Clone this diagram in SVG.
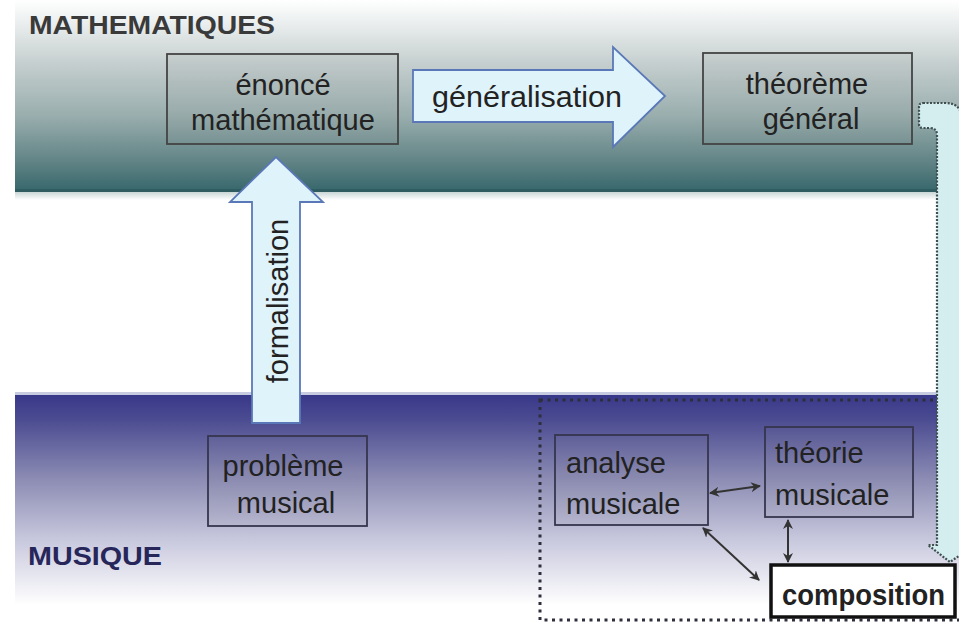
<svg xmlns="http://www.w3.org/2000/svg" width="959" height="628" viewBox="0 0 959 628">
<defs>
<linearGradient id="gTop" x1="0" y1="0" x2="0" y2="1">
<stop offset="0" stop-color="#ffffff"/>
<stop offset="0.1" stop-color="#eef1f1"/>
<stop offset="0.35" stop-color="#c2cccc"/>
<stop offset="0.6" stop-color="#9aaeae"/>
<stop offset="0.85" stop-color="#5f8284"/>
<stop offset="1" stop-color="#35666b"/>
</linearGradient>
<linearGradient id="gBot" x1="0" y1="0" x2="0" y2="1">
<stop offset="0" stop-color="#38388a"/>
<stop offset="0.12" stop-color="#4c4c92"/>
<stop offset="0.4" stop-color="#8c8cb4"/>
<stop offset="0.7" stop-color="#cacadf"/>
<stop offset="1" stop-color="#ffffff"/>
</linearGradient>
<linearGradient id="gShadow" x1="0" y1="0" x2="0" y2="1">
<stop offset="0" stop-color="#c9d6d6"/>
<stop offset="1" stop-color="#ffffff"/>
</linearGradient>
<marker id="ah" viewBox="0 0 10 10" refX="9" refY="5" markerWidth="5" markerHeight="5" orient="auto-start-reverse" markerUnits="strokeWidth">
<path d="M0,0 L10,5 L0,10 L3,5 Z" fill="#333333"/>
</marker>
</defs>
<style>
.box{fill:#808080;fill-opacity:0.08;stroke:#444444;stroke-width:1.8}
.bx{fill:#808080;fill-opacity:0.06;stroke:#36364e;stroke-width:1.8}
.t{font-family:"Liberation Sans",Arial,sans-serif;font-size:29px;fill:#222222}
.c{text-anchor:middle}
.band{font-family:"Liberation Sans",Arial,sans-serif;font-weight:bold;font-size:26px}
.blk{fill:#dff3fb;stroke:#5a78b8;stroke-width:1.8}
.con{stroke:#333333;stroke-width:2;fill:none;marker-start:url(#ah);marker-end:url(#ah)}
</style>
<rect width="959" height="628" fill="#ffffff"/>
<g id="bands">
<rect x="15" y="0" width="944" height="192" fill="url(#gTop)"/>
<rect x="15" y="189" width="944" height="3" fill="#2f5c60"/>
<rect x="15" y="192" width="944" height="8" fill="url(#gShadow)"/>
<rect x="15" y="395" width="944" height="210" fill="url(#gBot)"/>
<rect x="15" y="392" width="944" height="3" fill="#c8cce0"/>
<text class="band" x="29" y="34" fill="#3a3a3a" textLength="246" lengthAdjust="spacingAndGlyphs">MATHEMATIQUES</text>
<text class="band" x="28" y="565" fill="#26265a" textLength="134" lengthAdjust="spacingAndGlyphs">MUSIQUE</text>
</g>
<g id="zone-musique">
<rect x="540" y="400" width="430" height="220" fill="none" stroke="#2e2e3c" stroke-width="3" stroke-dasharray="3 4.5"/>
</g>
<g id="enonce">
<rect class="box" x="167" y="54" width="231" height="90"/>
<text class="t c" x="283" y="95">énoncé</text>
<text class="t c" x="283" y="130">mathématique</text>
</g>
<g id="theoreme">
<rect class="box" x="703" y="53" width="209" height="91"/>
<text class="t c" x="807" y="94">théorème</text>
<text class="t c" x="811" y="129">général</text>
</g>
<g id="probleme">
<rect class="bx" x="208" y="436" width="159" height="90"/>
<text class="t c" x="283" y="476">problème</text>
<text class="t c" x="286" y="513">musical</text>
</g>
<g id="analyse">
<rect class="bx" x="555" y="435" width="153" height="90"/>
<text class="t" x="566" y="473">analyse</text>
<text class="t" x="566" y="514">musicale</text>
</g>
<g id="theorie">
<rect class="bx" x="765" y="427" width="148" height="90"/>
<text class="t" x="775" y="463">théorie</text>
<text class="t" x="775" y="505">musicale</text>
</g>
<g id="composition">
<rect x="771" y="565" width="184" height="52" fill="#ffffff" stroke="#111111" stroke-width="3.5"/>
<text class="t" x="782" y="605" font-weight="bold" font-size="28" fill="#1a1a1a" textLength="163" lengthAdjust="spacingAndGlyphs">composition</text>
</g>
<g id="connectors">
<g id="generalisation">
<path class="blk" d="M413,70 L613,70 L613,47 L665,96 L613,147 L613,122 L413,122 Z"/>
<text class="t" x="432" y="107" textLength="190" lengthAdjust="spacingAndGlyphs">généralisation</text>
</g>
<g id="formalisation">
<path class="blk" d="M252,423 L252,202 L230,202 L276,157 L323,202 L300,202 L300,423 Z"/>
<text class="t c" transform="translate(288,301) rotate(-90)" x="0" y="0">formalisation</text>
</g>
<g id="application">
<path d="M923,103 L945,103 Q962,103 962,120 L962,545 L975,545 L950,562 L928,545 L937,545 L937,135 Q937,128 930,128 L923,128 Q919,128 919,124 L919,107 Q919,103 923,103 Z" fill="#d4eef0" stroke="#3f4f4f" stroke-width="2.2" stroke-dasharray="2 1.5"/>
</g>
<line class="con" x1="710" y1="493" x2="760" y2="486"/>
<line class="con" x1="703" y1="528" x2="759" y2="580"/>
<line class="con" x1="788" y1="520" x2="788" y2="562"/>
</g>
</svg>
